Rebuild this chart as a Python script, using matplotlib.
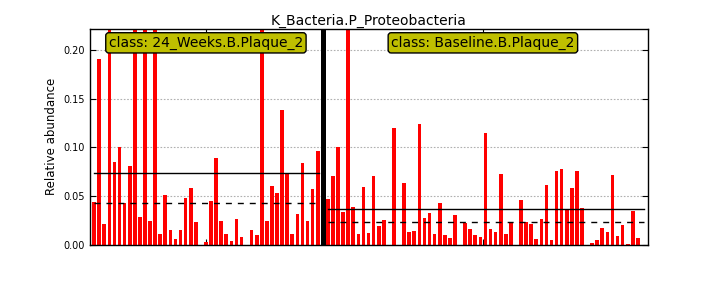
import numpy as np
import matplotlib
matplotlib.use('Agg')
import matplotlib.pyplot as plt

# Dane
title = 'K_Bacteria.P_Proteobacteria'
class_names = ['24_Weeks.B.Plaque_2', 'Baseline.B.Plaque_2']

weeks24 = [0.0442, 0.191, 0.0216, 0.30, 0.0853, 0.1007, 0.0428, 0.0812, 0.35,
           0.028, 0.28, 0.0247, 0.32, 0.0113, 0.0514, 0.0154, 0.0062, 0.0154,
           0.0483, 0.0586, 0.0236, 0.0, 0.003, 0.045, 0.0894, 0.0247, 0.0113,
           0.0041, 0.0267, 0.0082, 0.0, 0.0154, 0.0103, 0.336, 0.0247, 0.0606,
           0.0534, 0.1387, 0.0729, 0.0113, 0.0318, 0.0842, 0.0247, 0.0575, 0.0966]

baseline = [0.0473, 0.0709, 0.1007, 0.0339, 0.24, 0.039, 0.0113, 0.0596, 0.0123,
            0.0709, 0.0195, 0.0257, 0.0, 0.1202, 0.0, 0.0637, 0.0134, 0.0144,
            0.1243, 0.0277, 0.0329, 0.0113, 0.0432, 0.0103, 0.0072, 0.0308, 0.0,
            0.0223, 0.0164, 0.0103, 0.0082, 0.1151, 0.0164, 0.0134, 0.0729,
            0.0113, 0.0236, 0.0, 0.0462, 0.0236, 0.0216, 0.0062, 0.0267, 0.0616,
            0.0051, 0.076, 0.0781, 0.037, 0.0586, 0.076, 0.038, 0.0, 0.002,
            0.0051, 0.0175, 0.0134, 0.0719, 0.0092, 0.0205, 0.001, 0.0349, 0.0072]

groups = [weeks24, baseline]
ymax = 0.2215

fig = plt.figure(figsize=(7.2, 2.88), dpi=100)
ax = fig.add_axes([0.125, 0.15, 0.775, 0.75])

start = 0
centers = []
line_pad = [0.7, 1.6]
for k, vals in enumerate(groups):
    x = np.arange(start, start + len(vals))
    ax.bar(x, vals, width=0.72, align='edge', color='red', edgecolor='none', zorder=2)
    mean = np.mean(vals)
    med = np.median(vals)
    ax.plot([x[0] + 0.4, x[-1] + line_pad[k]], [mean, mean], color='black', lw=1.0, zorder=3)
    ax.plot([x[0] + 0.4, x[-1] + line_pad[k]], [med, med], color='black', lw=1.0,
            ls=(0, (4.3, 4.3)), zorder=3)
    c = (x[0] + x[-1] + 0.72) / 2.0
    centers.append(c)
    ax.text(c, ymax * 0.935, 'class: ' + class_names[k], ha='center', va='center',
            fontsize=10, zorder=5,
            bbox=dict(boxstyle='round,pad=0.22', facecolor=(0.75, 0.75, 0.0),
                      edgecolor='black', lw=1))
    if k == 0:
        # separator
        ax.axvline(x[-1] + 1.48, color='black', lw=3.6, zorder=4)
    start = start + len(vals) + 1

ax.set_xlim(-0.45, 109.35)
ax.set_ylim(0, ymax)
ax.set_yticks([0.0, 0.05, 0.10, 0.15, 0.20])
ax.set_yticklabels(['0.00', '0.05', '0.10', '0.15', '0.20'], fontsize=7)
ax.set_xticks(centers)
ax.set_xticklabels(['', ''])
ax.tick_params(direction='in', top=True, right=True, length=4, width=0.8)
ax.yaxis.grid(True, color='#b0b0b0', ls=(0, (1.5, 1.5)), lw=0.8)
ax.set_axisbelow(True)
for s in ax.spines.values():
    s.set_linewidth(1.0)
ax.set_ylabel('Relative abundance', fontsize=8.5)
ax.set_title(title, fontsize=10, pad=3)

fig.savefig('out.png', dpi=100)
